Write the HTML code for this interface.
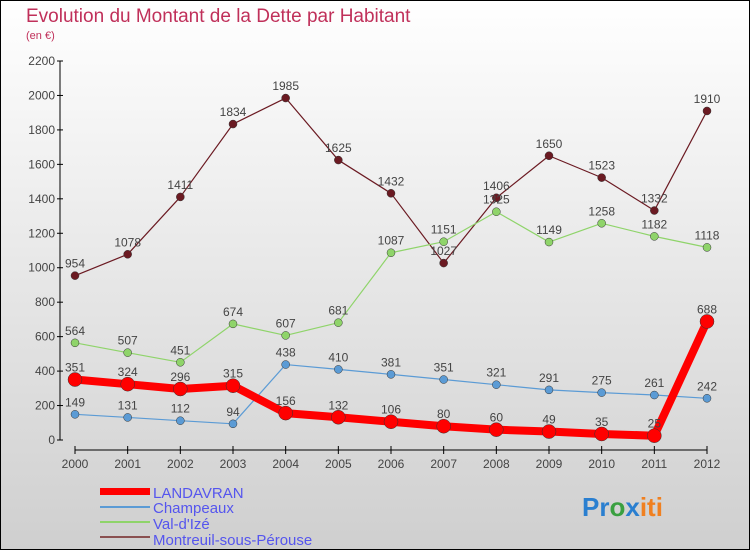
<!DOCTYPE html>
<html><head><meta charset="utf-8"><style>
body{margin:0;width:750px;height:550px;overflow:hidden;font-family:"Liberation Sans",sans-serif}
</style></head><body>
<svg id="chart" width="750" height="550" style="display:block">
<defs><linearGradient id="bg" x1="0" y1="0" x2="0" y2="1"><stop offset="0" stop-color="#ffffff"/><stop offset="1" stop-color="#cfcfcf"/></linearGradient></defs>
<rect x="0.5" y="0.5" width="749" height="549" fill="url(#bg)" stroke="#000"/>
<text x="26" y="22" font-size="19" fill="#c0305a">Evolution du Montant de la Dette par Habitant</text>
<text x="26" y="39" font-size="11" fill="#c0305a">(en €)</text>
<g id="axes"></g><g id="series"></g>
<g font-size="15" fill="#5555ee">
<rect x="100" y="488" width="50" height="7" fill="#ff0000"/>
<text x="153" y="498">LANDAVRAN</text>
<rect x="100" y="506" width="50" height="2" fill="#5b9bd5"/>
<text x="153" y="513">Champeaux</text>
<rect x="100" y="521" width="50" height="2" fill="#8fd46a"/>
<text x="153" y="529">Val-d'Izé</text>
<rect x="100" y="536" width="50" height="2" fill="#8a5050"/>
<text x="153" y="545">Montreuil-sous-Pérouse</text>
</g>
<text x="582" y="516" font-size="26" font-weight="bold"><tspan fill="#2a7fd0">Pr</tspan><tspan fill="#3aa040">o</tspan><tspan fill="#2a7fd0">x</tspan><tspan fill="#f08020">iti</tspan></text>
</svg>
<script>
const years=[2000,2001,2002,2003,2004,2005,2006,2007,2008,2009,2010,2011,2012];
const yTicks=[0,200,400,600,800,1000,1200,1400,1600,1800,2000,2200];
const landavran=[351,324,296,315,156,132,106,80,60,49,35,25,688];
const champeaux=[149,131,112,94,438,410,381,351,321,291,275,261,242];
const valDIze=[564,507,451,674,607,681,1087,1151,1325,1149,1258,1182,1118];
const montreuil=[954,1078,1411,1834,1985,1625,1432,1027,1406,1650,1523,1332,1910];
const NS="http://www.w3.org/2000/svg";
const xS=i=>75+i*(707-75)/12;
const yS=v=>440-v*(440-61)/2200;
function mk(t,a,p){const e=document.createElementNS(NS,t);for(const k in a)e.setAttribute(k,a[k]);p.appendChild(e);return e;}
const ax=document.getElementById('axes');
const yl=mk('line',{x1:60,y1:61,x2:60,y2:440,stroke:'#000'},ax);


yTicks.forEach(v=>{
 mk('line',{x1:57,y1:yS(v),x2:63,y2:yS(v),stroke:'#000'},ax);
 const t=mk('text',{x:55,y:yS(v)+4,'font-size':12,'text-anchor':'end',fill:'#444'},ax);
 t.textContent=v;
 
 
});
const xl=mk('line',{x1:75,y1:450,x2:707,y2:450,stroke:'#000'},ax);


years.forEach((y,i)=>{
 mk('line',{x1:xS(i),y1:446,x2:xS(i),y2:454,stroke:'#000'},ax);
 const t=mk('text',{x:xS(i),y:468,'font-size':12,'text-anchor':'middle',fill:'#444'},ax);
 t.textContent=y;
 
 
});
const sg=document.getElementById('series');
function draw(vals,color,w,r,name){
 const g=mk('g',{},sg);
 
 
 const pl=mk('polyline',{points:vals.map((v,i)=>xS(i)+','+yS(v)).join(' '),fill:'none',stroke:color,'stroke-width':w,'stroke-linejoin':'round'},g);
 
 
 vals.forEach((v,i)=>{
  const c=mk('circle',{cx:xS(i),cy:yS(v),r:r,fill:color,stroke:'#333','stroke-width':0.5},g);
  
  
  const t=mk('text',{x:xS(i),y:yS(v)-8,'font-size':12,'text-anchor':'middle',fill:'#444'},g);
  t.textContent=v;
  
  
 });
}
draw(montreuil,'#6b1a22',1.2,4,'montreuil');
draw(valDIze,'#8fd46a',1.2,4,'val-d-ize');
draw(champeaux,'#5b9bd5',1.2,4,'champeaux');
draw(landavran,'#ff0000',8,7,'landavran');
</script>
</body></html>
